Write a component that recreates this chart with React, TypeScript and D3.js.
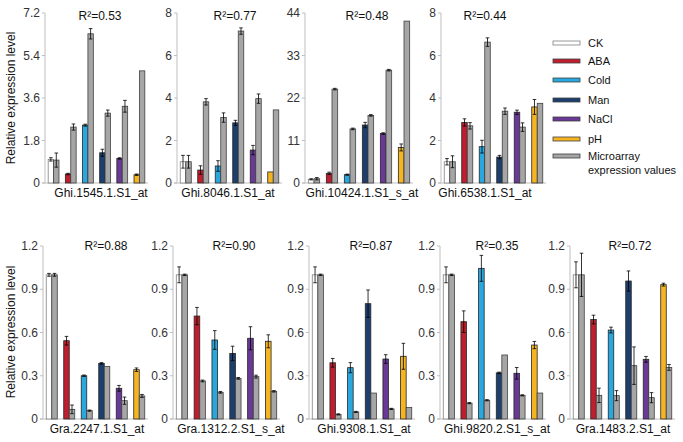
import * as d3 from 'd3';

// treatments shown in every panel (qRT-PCR) plus the microarray bar
const treatments = ['CK', 'ABA', 'Cold', 'Man', 'NaCl', 'pH'];
const treatmentColors = ['#ffffff', '#be1e2d', '#29a8df', '#1c3f6e', '#6a3897', '#f5b523'];
const microarrayColor = '#a6a6a6';
const legendLabels = [...treatments, 'Microarray', 'expression values'];

const genes = [
    'Ghi.1545.1.S1_at', 'Ghi.8046.1.S1_at', 'Ghi.10424.1.S1_s_at', 'Ghi.6538.1.S1_at',
    'Gra.2247.1.S1_at', 'Gra.1312.2.S1_s_at', 'Ghi.9308.1.S1_at', 'Ghi.9820.2.S1_s_at', 'Gra.1483.2.S1_at',
];
const rSquared = ['0.53', '0.77', '0.48', '0.44', '0.88', '0.90', '0.87', '0.35', '0.72'];
const yMax = [7.2, 8, 44, 8, 1.2, 1.2, 1.2, 1.2, 1.2];
const yStep = [1.8, 2, 11, 2, 0.3, 0.3, 0.3, 0.3, 0.3];

// qRT-PCR means and errors, one row per gene, in treatment order
const qpcrMean = [
    [1.0, 0.38, 2.45, 1.28, 1.04, 0.35],
    [1.0, 0.61, 0.8, 2.83, 1.55, 0.52],
    [0.95, 2.5, 2.15, 15.0, 12.8, 9.2],
    [1.0, 2.85, 1.71, 1.22, 3.33, 3.58],
    [1.0, 0.543, 0.3, 0.386, 0.213, 0.342],
    [1.0, 0.714, 0.548, 0.455, 0.56, 0.539],
    [1.0, 0.39, 0.356, 0.8, 0.416, 0.435],
    [1.0, 0.675, 1.045, 0.32, 0.317, 0.513],
    [1.0, 0.69, 0.617, 0.957, 0.414, 0.932],
];
const qpcrErr = [
    [0.07, 0.03, 0.04, 0.15, 0.03, 0.03],
    [0.3, 0.2, 0.25, 0.12, 0.22, 0],
    [0.15, 0.3, 0.15, 0.7, 0.2, 0.9],
    [0.15, 0.17, 0.3, 0.08, 0.1, 0.35],
    [0.01, 0.03, 0.005, 0.005, 0.02, 0.012],
    [0.055, 0.06, 0.065, 0.05, 0.08, 0.045],
    [0.055, 0.03, 0.035, 0.095, 0.03, 0.09],
    [0.055, 0.075, 0.09, 0.005, 0.04, 0.025],
    [0.09, 0.03, 0.02, 0.07, 0.02, 0.01],
];
// microarray expression values (scaled), same layout
const arrayMean = [
    [0.97, 2.37, 6.32, 2.96, 3.25, 4.75],
    [1.0, 3.82, 3.08, 7.15, 3.97, 3.44],
    [1.1, 24.3, 14.0, 17.5, 29.2, 41.9],
    [1.0, 2.69, 6.63, 3.38, 2.63, 3.75],
    [1.0, 0.067, 0.058, 0.365, 0.127, 0.16],
    [1.0, 0.264, 0.185, 0.282, 0.294, 0.192],
    [1.0, 0.032, 0.049, 0.18, 0.07, 0.08],
    [1.0, 0.11, 0.13, 0.444, 0.164, 0.18],
    [1.0, 0.164, 0.162, 0.37, 0.148, 0.358],
];
const arrayErr = [
    [0.3, 0.13, 0.22, 0.13, 0.25, 0],
    [0.3, 0.15, 0.22, 0.15, 0.22, 0],
    [0.3, 0.2, 0.2, 0.2, 0.2, 0],
    [0.28, 0.15, 0.2, 0.15, 0.2, 0],
    [0.01, 0.03, 0.004, 0, 0.025, 0.01],
    [0.005, 0.006, 0.006, 0.006, 0.01, 0.005],
    [0.005, 0.004, 0.004, 0, 0.004, 0],
    [0.005, 0.004, 0.004, 0, 0.004, 0],
    [0.15, 0.05, 0.035, 0.13, 0.035, 0.02],
];

// layout of the nine panels
const axisX = [45, 177, 305, 441, 43, 173, 309, 440, 570];
const plotW = [103, 105, 108, 105, 105, 107, 106, 106, 105];
const titleX = [100, 235, 367, 485, 106, 234, 371, 497, 630];
const labelX = [101, 228, 362, 485, 97, 231, 364, 497, 623];
const rows = [
    { top: 13, bottom: 183, title: 20, label: 197 },
    { top: 246, bottom: 419, title: 250, label: 433 },
];

const font = '"Liberation Sans", Arial, sans-serif';

function Panel({ i }: { i: number }) {
    const row = rows[i < 4 ? 0 : 1];
    const x0 = axisX[i];
    const xBand = d3.scaleBand<string>()
        .domain(treatments)
        .range([x0, x0 + plotW[i]])
        .paddingInner(0.37)
        .paddingOuter(0.185);
    const xPair = d3.scaleBand<string>()
        .domain(['qpcr', 'array'])
        .range([0, xBand.bandwidth()]);
    const y = d3.scaleLinear().domain([0, yMax[i]]).range([row.bottom, row.top]);
    const ticks = d3.range(0, yMax[i] + yStep[i] / 2, yStep[i]).map(v => +v.toFixed(2));
    const bw = xPair.bandwidth();

    const bar = (t: string, k: number, kind: string, v: number, e: number, fill: string, stroke: string) => {
        const bx = (xBand(t) ?? 0) + (xPair(kind) ?? 0);
        const cx = bx + bw / 2;
        return (
            <g key={`${kind}-${k}`}>
                <rect x={bx} y={y(v)} width={bw} height={y(0) - y(v)} fill={fill} stroke={stroke} strokeWidth={0.8} />
                {e > 0 && (
                    <g stroke='#000' strokeWidth={0.8}>
                        <line x1={cx} x2={cx} y1={y(v + e)} y2={Math.min(y(v - e), y(0))} />
                        <line x1={cx - 1.8} x2={cx + 1.8} y1={y(v + e)} y2={y(v + e)} />
                        {v - e > 0 && <line x1={cx - 1.8} x2={cx + 1.8} y1={y(v - e)} y2={y(v - e)} />}
                    </g>
                )}
            </g>
        );
    };

    return (
        <g fontFamily={font}>
            <line x1={x0} x2={x0} y1={row.top} y2={row.bottom} stroke='#bfbfbf' />
            <line x1={x0 - 3} x2={x0 + plotW[i]} y1={row.bottom} y2={row.bottom} stroke='#bfbfbf' />
            {ticks.map(t => (
                <g key={t}>
                    <line x1={x0 - 3} x2={x0} y1={y(t)} y2={y(t)} stroke='#bfbfbf' />
                    <text x={x0 - 5} y={y(t) + 4} textAnchor='end' fontSize={12} fill='#333'>{t}</text>
                </g>
            ))}
            {treatments.map((t, k) => bar(t, k, 'qpcr', qpcrMean[i][k], qpcrErr[i][k], treatmentColors[k], k === 0 ? '#808080' : '#262626'))}
            {treatments.map((t, k) => bar(t, k, 'array', arrayMean[i][k], arrayErr[i][k], microarrayColor, '#404040'))}
            <text x={titleX[i]} y={row.title} textAnchor='middle' fontSize={12} fill='#111'>
                R²={rSquared[i]}
            </text>
            <text x={labelX[i]} y={row.label} textAnchor='middle' fontSize={12} fill='#111'>
                {genes[i]}
            </text>
        </g>
    );
}

function Legend() {
    const swatch = [...treatmentColors, microarrayColor];
    const ys = [43, 61, 80, 100, 119, 139, 156, 170];
    return (
        <g fontFamily={font} fontSize={11} fill='#111'>
            {legendLabels.map((l, k) => (
                <g key={l}>
                    {k < swatch.length && (
                        <rect x={553} y={ys[k] - 2} width={27} height={4} fill={swatch[k]} stroke={k === 0 ? '#808080' : '#404040'} strokeWidth={0.8} />
                    )}
                    <text x={588} y={ys[k] + 4}>{l}</text>
                </g>
            ))}
        </g>
    );
}

export default function App() {
    return (
        <svg width={683} height={442} style={{ position: 'absolute', left: 0, top: 0, background: '#fff' }}>
            {genes.map((g, i) => <Panel key={g} i={i} />)}
            <Legend />
            {[98, 332].map(cy => (
                <text key={cy} transform={`translate(15, ${cy}) rotate(-90)`} textAnchor='middle' fontFamily={font} fontSize={12} fill='#111'>
                    Relative expression level
                </text>
            ))}
        </svg>
    );
}
